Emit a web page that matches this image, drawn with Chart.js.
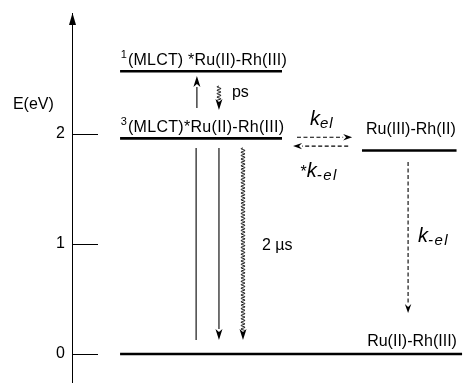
<!DOCTYPE html>
<html><head><meta charset="utf-8">
<script src="https://cdn.jsdelivr.net/npm/chart.js@4/dist/chart.umd.min.js"></script>
<style>html,body{margin:0;padding:0;background:#fff;}canvas{display:block;}</style>
</head><body>
<canvas id="c" width="466" height="383"></canvas>
<script>
// ---- data (energies in eV, horizontal positions in arbitrary 0-100 units) ----
const yTicks = [0, 1, 2];
const levelNames = ['1MLCT', '3MLCT', 'Ru(III)-Rh(II)', 'Ru(II)-Rh(III)'];
const levelEnergies = [2.57, 1.96, 1.85, 0];
const levelStartX = [12.2, 12.2, 73.6, 12.2];
const levelEndX = [53.3, 53.3, 97.6, 99.0];

// arrows: x1,y1 -> x2,y2 ; style
const arrowX1 = [31.7, 37.3, 31.5, 37.3, 43.4, 57.1, 70.1, 85.3];
const arrowY1 = [2.236, 2.436, 1.873, 1.873, 1.873, 1.97, 1.89, 1.745];
const arrowX2 = [31.7, 37.3, 31.5, 37.3, 43.4, 71.1, 56.1, 85.3];
const arrowY2 = [2.527, 2.218, 0.127, 0.127, 0.127, 1.97, 1.89, 0.373];
const arrowStyle = ['solid', 'wavy', 'plain', 'solid', 'wavy', 'dashed', 'dashed', 'dashed'];

const FONT = '"Liberation Sans", Arial, sans-serif';

const datasets = levelNames.map((n, i) => ({
  label: n,
  data: [{x: levelStartX[i], y: levelEnergies[i]}, {x: levelEndX[i], y: levelEnergies[i]}],
  showLine: true, borderColor: '#000', borderWidth: 2.6, pointRadius: 0, fill: false
}));

function drawRich(ctx, parts, x, y) {
  let cx = x;
  parts.forEach(p => {
    ctx.font = p.f;
    ctx.letterSpacing = p.ls || '0px';
    ctx.fillText(p.t, cx, y + (p.dy || 0));
    cx += ctx.measureText(p.t).width + (p.gap || 0);
    ctx.letterSpacing = '0px';
  });
}

const diagramPlugin = {
  id: 'diagram',
  afterDatasetsDraw(chart) {
    const ctx = chart.ctx, xs = chart.scales.x, ys = chart.scales.y;
    const px = v => xs.getPixelForValue(v), py = v => ys.getPixelForValue(v);
    const left = chart.chartArea.left, top = chart.chartArea.top;
    ctx.save();
    ctx.fillStyle = '#000'; ctx.strokeStyle = '#000';
    // axis arrowhead
    const ax = left + 0.5;
    ctx.beginPath(); ctx.moveTo(ax, top); ctx.lineTo(ax - 3.5, top + 12); ctx.lineTo(ax + 3.5, top + 12); ctx.closePath(); ctx.fill();
    // ticks inside
    ctx.lineWidth = 1;
    yTicks.forEach(t => {
      const y = Math.round(py(t)) + 0.5;
      ctx.beginPath(); ctx.moveTo(left, y); ctx.lineTo(left + 26, y); ctx.stroke();
    });
    // arrows
    arrowStyle.forEach((s, i) => {
      const x1 = px(arrowX1[i]), y1 = py(arrowY1[i]), x2 = px(arrowX2[i]), y2 = py(arrowY2[i]);
      const L = Math.hypot(x2 - x1, y2 - y1), ux = (x2 - x1) / L, uy = (y2 - y1) / L;
      const nx = -uy, ny = ux;
      let hl = 0, hw = 0;
      if (s === 'solid' || s === 'wavy') { hl = 11; hw = 3.5; }
      if (s === 'dashed') { hl = 9; hw = 3.2; }
      const ex = x2 - ux * hl, ey = y2 - uy * hl;
      ctx.lineWidth = s === 'wavy' ? 0.9 : 1.1;
      ctx.beginPath();
      if (s === 'dashed') ctx.setLineDash([4, 2.5]); else ctx.setLineDash([]);
      if (s === 'wavy') {
        const len = L - hl + 2, amp = 2.0, per = 3.4;
        for (let d = 0; d <= len; d += 0.4) {
          const off = amp * Math.sin(2 * Math.PI * d / per);
          const X = x1 + ux * d + nx * off, Y = y1 + uy * d + ny * off;
          if (d === 0) ctx.moveTo(X, Y); else ctx.lineTo(X, Y);
        }
      } else {
        ctx.moveTo(x1, y1); ctx.lineTo(ex, ey);
      }
      ctx.stroke();
      ctx.setLineDash([]);
      if (hl) {
        ctx.beginPath();
        ctx.moveTo(x2, y2);
        ctx.lineTo(ex + nx * hw, ey + ny * hw);
        ctx.lineTo(ex + ux * 3 , ey + uy * 3);
        ctx.lineTo(ex - nx * hw, ey - ny * hw);
        ctx.closePath(); ctx.fill();
      }
    });
    // texts
    ctx.textBaseline = 'alphabetic'; ctx.textAlign = 'left';
    const f16 = '16px ' + FONT, f11 = '11px ' + FONT;
    drawRich(ctx, [{t: 'E(eV)', f: f16}], px(-15.0), py(2.227));
    drawRich(ctx, [{t: '1', f: f11, dy: -7, gap: 1}, {t: '(MLCT) *Ru(II)-Rh(III)', f: f16, ls: '0.2px'}], px(12.4), py(2.627));
    drawRich(ctx, [{t: '3', f: f11, dy: -7, gap: 1}, {t: '(MLCT)*Ru(II)-Rh(III)', f: f16, ls: '0.3px'}], px(12.4), py(2.018));
    ctx.font = f16;
    ctx.textAlign = 'center'; ctx.fillText('Ru(III)-Rh(II)', px(86.0), py(2.0));
    ctx.textAlign = 'right'; ctx.fillText('Ru(II)-Rh(III)', px(97.7), py(0.075));
    ctx.textAlign = 'left';
    ctx.fillText('ps', px(40.6), py(2.34));
    ctx.fillText('2 \u00b5s', px(48.2), py(0.945));
    const fk = 'italic 20px ' + FONT, fs = 'italic 15px ' + FONT;
    drawRich(ctx, [{t: 'k', f: fk}, {t: 'el', f: fs, dy: 3, ls: '1px'}], px(60.4), py(2.08));
    drawRich(ctx, [{t: '*', f: f16}, {t: 'k', f: fk}, {t: '-el', f: fs, dy: 3, ls: '1.5px'}], px(58.0), py(1.61));
    drawRich(ctx, [{t: 'k', f: fk}, {t: '-el', f: fs, dy: 3, ls: '1.5px'}], px(87.8), py(1.018));
    ctx.restore();
  }
};

new Chart(document.getElementById('c'), {
  type: 'scatter',
  data: {datasets},
  options: {
    responsive: false, animation: false, devicePixelRatio: 1,
    layout: {padding: {top: 13, right: 0, bottom: 0, left: 0}},
    plugins: {legend: {display: false}, tooltip: {enabled: false}},
    scales: {
      x: {type: 'linear', min: 0, max: 100, display: false},
      y: {
        type: 'linear', min: -0.264, max: 3.1,
        afterFit(scale) { scale.width = 72; scale.paddingTop = 0; scale.paddingBottom = 0; },
        afterBuildTicks(scale) { scale.ticks = yTicks.map(v => ({value: v})); },
        grid: {display: false, drawTicks: false},
        border: {display: true, color: '#000', width: 1},
        ticks: {color: '#000', padding: 7, font: {size: 16, family: FONT}, callback: v => String(v)}
      }
    }
  },
  plugins: [diagramPlugin]
});
</script>
</body></html>
